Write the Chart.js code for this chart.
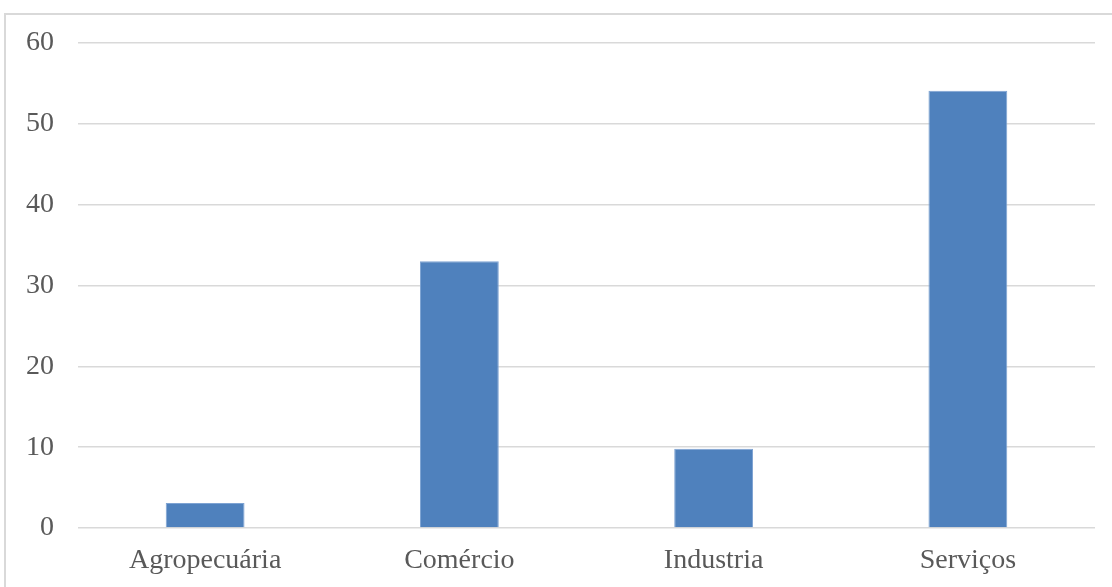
<!DOCTYPE html>
<html>
<head>
  <meta charset="utf-8">
  <title>Setores</title>
  <script src="https://cdn.jsdelivr.net/npm/chart.js"></script>
  <style>
    body { margin: 0; background: #fff; overflow: hidden; }
    #frame {
        position: absolute;
        left: 4px;
        top: 13px;
        width: 1200px;
        height: 700px;
        border: 2px solid #d9d9d9;
    }
    #chartContainer {
        position: absolute;
        left: 0;
        top: 0;
        width: 1112px;
        height: 587px;
    }
  </style>
</head>
<body>
  <div id="frame"></div>
  <div id="chartContainer">
    <canvas id="myChart"></canvas>
  </div>

  <script>
    // setores e valores
    const setores = ['Agropecuária', 'Comércio', 'Industria', 'Serviços'];
    const valores = [3.1, 33.0, 9.8, 54.1];
    const yTicks = [0, 10, 20, 30, 40, 50, 60];

    const ctx = document.getElementById('myChart').getContext('2d');
    const myChart = new Chart(ctx, {
      type: 'bar',
      data: {
        labels: setores,
        datasets: [{
          data: valores,
          backgroundColor: '#4f81bd',
          borderColor: '#7ea3d3',
          borderWidth: { top: 1, left: 1, right: 1, bottom: 0 },
          categoryPercentage: 1,
          barPercentage: 0.31
        }]
      },
      options: {
        responsive: true,
        maintainAspectRatio: false,
        animation: false,
        layout: { padding: { top: 43, right: 17, left: 0, bottom: 0 } },
        plugins: {
          legend: { display: false },
          tooltip: { enabled: false }
        },
        scales: {
          x: {
            grid: { display: false, drawTicks: false },
            border: { display: false },
            ticks: {
              color: '#595959',
              padding: 16,
              font: { family: 'Liberation Serif', size: 28 }
            },
            afterFit: (scale) => { scale.height = 59; }
          },
          y: {
            min: 0,
            max: 60,
            afterBuildTicks: (scale) => { scale.ticks = yTicks.map(v => ({ value: v })); },
            grid: { color: '#d9d9d9', lineWidth: 1.5, drawTicks: false },
            border: { display: false },
            ticks: {
              color: '#595959',
              padding: 24,
              font: { family: 'Liberation Serif', size: 28 }
            },
            afterFit: (scale) => { scale.width = 78; }
          }
        }
      }
    });
  </script>
</body>
</html>
